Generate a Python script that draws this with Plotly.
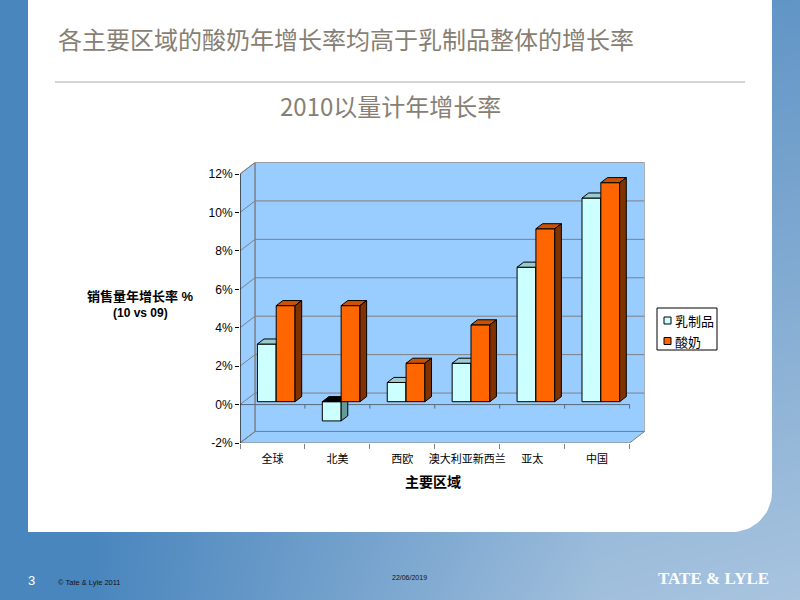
import math
import plotly.graph_objects as go

# ---------------- data ----------------
categories = ["全球", "北美", "西欧", "澳大利亚新西兰", "亚太", "中国"]
dairy = [3.0, -1.0, 1.0, 2.0, 7.0, 10.6]      # 乳制品
yogurt = [5.0, 5.0, 2.0, 4.0, 9.0, 11.4]      # 酸奶
series_names = ["乳制品", "酸奶"]
y_tick_values = [-2, 0, 2, 4, 6, 8, 10, 12]
y_tick_labels = ["-2%", "0%", "2%", "4%", "6%", "8%", "10%", "12%"]

# ---------------- geometry / style ----------------
W, H = 800, 600


def fx(p):
    return p / W


def fy(p):
    return 1 - p / H


CH_X0, CH_X1 = 240, 644.6
CH_Y0, CH_Y1 = 162.5, 443
N = len(categories)
Y_LO, Y_HI = min(y_tick_values), max(y_tick_values)
DX, DY = 0.232, 0.6          # depth of the 3D box in data units
F_DEPTH, B_DEPTH = 0.25, 0.44
BAR_W, BAR_OFF = 0.29, 0.21

WALL = "#99CCFF"
GRID = "#808080"
COL_FRONT = ["#CCFFFF", "#FF6600"]
COL_TOP = ["#99CCCC", "#CC5200"]
COL_SIDE = ["#669999", "#803300"]
CJK = "Noto Sans CJK SC"
SANS = "Liberation Sans, Arial, Noto Sans CJK SC"


def pt(x, y, d):
    return (x + d * DX, y + d * DY)


def poly_xy(polys):
    xs, ys = [], []
    for p in polys:
        for (x, y) in p + [p[0]]:
            xs.append(x)
            ys.append(y)
        xs.append(None)
        ys.append(None)
    return xs, ys


def seg_xy(segs):
    xs, ys = [], []
    for (a, b) in segs:
        xs += [a[0], b[0], None]
        ys += [a[1], b[1], None]
    return xs, ys


fig = go.Figure()

# ---------------- slide background ----------------
fig.add_trace(go.Heatmap(
    x=[0, 0.12, 0.75, 1], y=[0, 1],
    z=[[0, 0, 0.93, 1], [0, 0, 0.2, 0.25]],
    colorscale=[[0, "#4A86BE"], [1, "#A8C4DF"]], zmin=0, zmax=1,
    zsmooth="best", showscale=False, hoverinfo="skip",
    xaxis="x", yaxis="y"))

R = 40
panel = [(28, 0), (772, 0)]
cx, cy = 772 - R, 532 - R
for k in range(0, 21):
    t = (math.pi / 2) * k / 20
    panel.append((cx + R * math.cos(t), cy + R * math.sin(t)))
panel.append((28, 532))
fig.add_trace(go.Scatter(
    x=[fx(p[0]) for p in panel] + [fx(panel[0][0])],
    y=[fy(p[1]) for p in panel] + [fy(panel[0][1])],
    mode="lines", fill="toself", fillcolor="white", line=dict(width=0),
    hoverinfo="skip", showlegend=False, xaxis="x", yaxis="y"))

# ---------------- 3D box (walls, floor, grid) ----------------
floor = [pt(0, Y_LO, 0), pt(N, Y_LO, 0), pt(N, Y_LO, 1), pt(0, Y_LO, 1)]
side = [pt(0, Y_LO, 0), pt(0, Y_LO, 1), pt(0, Y_HI, 1), pt(0, Y_HI, 0)]
back = [pt(0, Y_LO, 1), pt(N, Y_LO, 1), pt(N, Y_HI, 1), pt(0, Y_HI, 1)]
xs, ys = poly_xy([floor, side, back])
fig.add_trace(go.Scatter(x=xs, y=ys, mode="lines", fill="toself", fillcolor=WALL,
                         line=dict(color=GRID, width=1), hoverinfo="skip",
                         showlegend=False, xaxis="x2", yaxis="y2"))

grid_segs = []
for v in y_tick_values:
    grid_segs.append((pt(0, v, 1), pt(N, v, 1)))
    grid_segs.append((pt(0, v, 0), pt(0, v, 1)))
xs, ys = seg_xy(grid_segs)
fig.add_trace(go.Scatter(x=xs, y=ys, mode="lines", line=dict(color=GRID, width=1),
                         hoverinfo="skip", showlegend=False, xaxis="x2", yaxis="y2"))

# zero (category) axis on the front with its ticks
tick_h = 4 / ((CH_Y1 - CH_Y0) / (Y_HI + DY - Y_LO))
zero_segs = [(pt(0, 0, 0), pt(N, 0, 0))]
for i in range(1, N + 1):
    zero_segs.append((pt(i, 0, 0), pt(i, -tick_h, 0)))
xs, ys = seg_xy(zero_segs)
fig.add_trace(go.Scatter(x=xs, y=ys, mode="lines", line=dict(color="#5A6A7A", width=1),
                         hoverinfo="skip", showlegend=False, xaxis="x2", yaxis="y2"))

# ---------------- bars ----------------
for s, vals in enumerate([dairy, yogurt]):
    fronts, tops, negtops, sides = [], [], [], []
    for i, v in enumerate(vals):
        x0 = i + BAR_OFF + s * BAR_W
        x1 = x0 + BAR_W
        top, bot = max(v, 0), min(v, 0)
        fronts.append([pt(x0, bot, F_DEPTH), pt(x1, bot, F_DEPTH),
                       pt(x1, top, F_DEPTH), pt(x0, top, F_DEPTH)])
        tface = [pt(x0, top, F_DEPTH), pt(x1, top, F_DEPTH),
                 pt(x1, top, F_DEPTH + B_DEPTH), pt(x0, top, F_DEPTH + B_DEPTH)]
        (negtops if v < 0 else tops).append(tface)
        sides.append([pt(x1, bot, F_DEPTH), pt(x1, bot, F_DEPTH + B_DEPTH),
                      pt(x1, top, F_DEPTH + B_DEPTH), pt(x1, top, F_DEPTH)])
    for polys, col in [(fronts, COL_FRONT[s]), (tops, COL_TOP[s]),
                       (negtops, "#000000"), (sides, COL_SIDE[s])]:
        if not polys:
            continue
        xs, ys = poly_xy(polys)
        fig.add_trace(go.Scatter(x=xs, y=ys, mode="lines", fill="toself", fillcolor=col,
                                 line=dict(color="black", width=1), name=series_names[s],
                                 hoverinfo="skip", showlegend=False,
                                 xaxis="x2", yaxis="y2"))

# front value-axis line
fig.add_trace(go.Scatter(x=[0, 0], y=[Y_LO, Y_HI], mode="lines",
                         line=dict(color="black", width=1), hoverinfo="skip",
                         showlegend=False, xaxis="x2", yaxis="y2"))

# ---------------- layout ----------------
fig.update_layout(
    template="none",
    width=W, height=H, autosize=False,
    margin=dict(l=0, r=0, t=0, b=0, pad=0, autoexpand=False),
    paper_bgcolor="#4A86BE", plot_bgcolor="rgba(0,0,0,0)", showlegend=False,
    xaxis=dict(domain=[0, 1], range=[0, 1], visible=False, fixedrange=True, automargin=False),
    yaxis=dict(domain=[0, 1], range=[0, 1], visible=False, fixedrange=True, automargin=False),
    xaxis2=dict(domain=[fx(CH_X0), fx(CH_X1)], range=[0, N + DX], anchor="y2",
                automargin=False, fixedrange=True,
                tickmode="array", tickvals=[i + 0.5 for i in range(N)], ticktext=categories,
                ticks="outside", ticklen=6, tickcolor="rgba(0,0,0,0)",
                minor=dict(tickmode="array", tickvals=list(range(N + 1)), ticks="outside",
                           ticklen=5, tickcolor=GRID),
                showgrid=False, zeroline=False, showline=False,
                tickfont=dict(family=CJK, size=11, color="black")),
    yaxis2=dict(domain=[fy(CH_Y1), fy(CH_Y0)], range=[Y_LO, Y_HI + DY], anchor="x2",
                automargin=False, fixedrange=True,
                tickmode="array", tickvals=y_tick_values, ticktext=y_tick_labels,
                ticks="outside", ticklen=4, tickcolor="black",
                showgrid=False, zeroline=False, showline=False,
                tickfont=dict(family=SANS, size=12, color="black")),
)

TITLE_COL = "#877F73"
ann = [
    dict(text="各主要区域的酸奶年增长率均高于乳制品整体的增长率", x=fx(56), y=fy(38),
         xanchor="left", yanchor="middle", font=dict(family=CJK, size=24, color=TITLE_COL)),
    dict(text="2010以量计年增长率", x=fx(390), y=fy(105), xanchor="center", yanchor="middle",
         font=dict(family=CJK, size=24, color=TITLE_COL)),
    dict(text="<b>销售量年增长率 %</b>", x=fx(140), y=fy(296), xanchor="center", yanchor="middle",
         font=dict(family=SANS, size=13, color="black")),
    dict(text="<b>(10 vs 09)</b>", x=fx(140), y=fy(313), xanchor="center", yanchor="middle",
         font=dict(family=SANS, size=12, color="black")),
    dict(text="<b>主要区域</b>", x=fx(433), y=fy(481), xanchor="center", yanchor="middle",
         font=dict(family=CJK, size=14, color="black")),
    dict(text=series_names[0], x=fx(673), y=fy(320), xanchor="left", yanchor="middle",
         font=dict(family=CJK, size=13, color="black")),
    dict(text=series_names[1], x=fx(673), y=fy(341), xanchor="left", yanchor="middle",
         font=dict(family=CJK, size=13, color="black")),
    dict(text="3", x=fx(31), y=fy(580), xanchor="center", yanchor="middle",
         font=dict(family=SANS, size=13, color="white")),
    dict(text="© Tate & Lyle 2011", x=fx(56), y=fy(582), xanchor="left", yanchor="middle",
         font=dict(family=SANS, size=7.5, color="#111111")),
    dict(text="22/06/2019", x=fx(410), y=fy(577), xanchor="center", yanchor="middle",
         font=dict(family=SANS, size=7, color="#111111")),
    dict(text="<b>TATE & LYLE</b>", x=fx(771), y=fy(578), xanchor="right", yanchor="middle",
         font=dict(family="Liberation Serif, DejaVu Serif", size=17, color="white")),
]
for a in ann:
    a.update(xref="paper", yref="paper", showarrow=False)
fig.update_layout(annotations=ann)

shapes = [
    dict(type="line", x0=fx(55), x1=fx(745), y0=fy(82), y1=fy(82),
         line=dict(color="#A8A8A8", width=1)),
    dict(type="rect", x0=fx(657), x1=fx(717), y0=fy(308), y1=fy(350),
         line=dict(color="black", width=1), fillcolor="white"),
    dict(type="rect", x0=fx(664), x1=fx(671), y0=fy(317), y1=fy(324),
         line=dict(color="black", width=1), fillcolor=COL_FRONT[0]),
    dict(type="rect", x0=fx(664), x1=fx(671), y0=fy(337.5), y1=fy(344.5),
         line=dict(color="black", width=1), fillcolor=COL_FRONT[1]),
]
for s in shapes:
    s.update(xref="paper", yref="paper")
fig.update_layout(shapes=shapes)

fig.write_html("out.html", config={"displayModeBar": False},
               post_script="document.body.style.margin='0';"
                           "document.documentElement.style.overflow='hidden';"
                           "document.body.style.overflow='hidden';")
